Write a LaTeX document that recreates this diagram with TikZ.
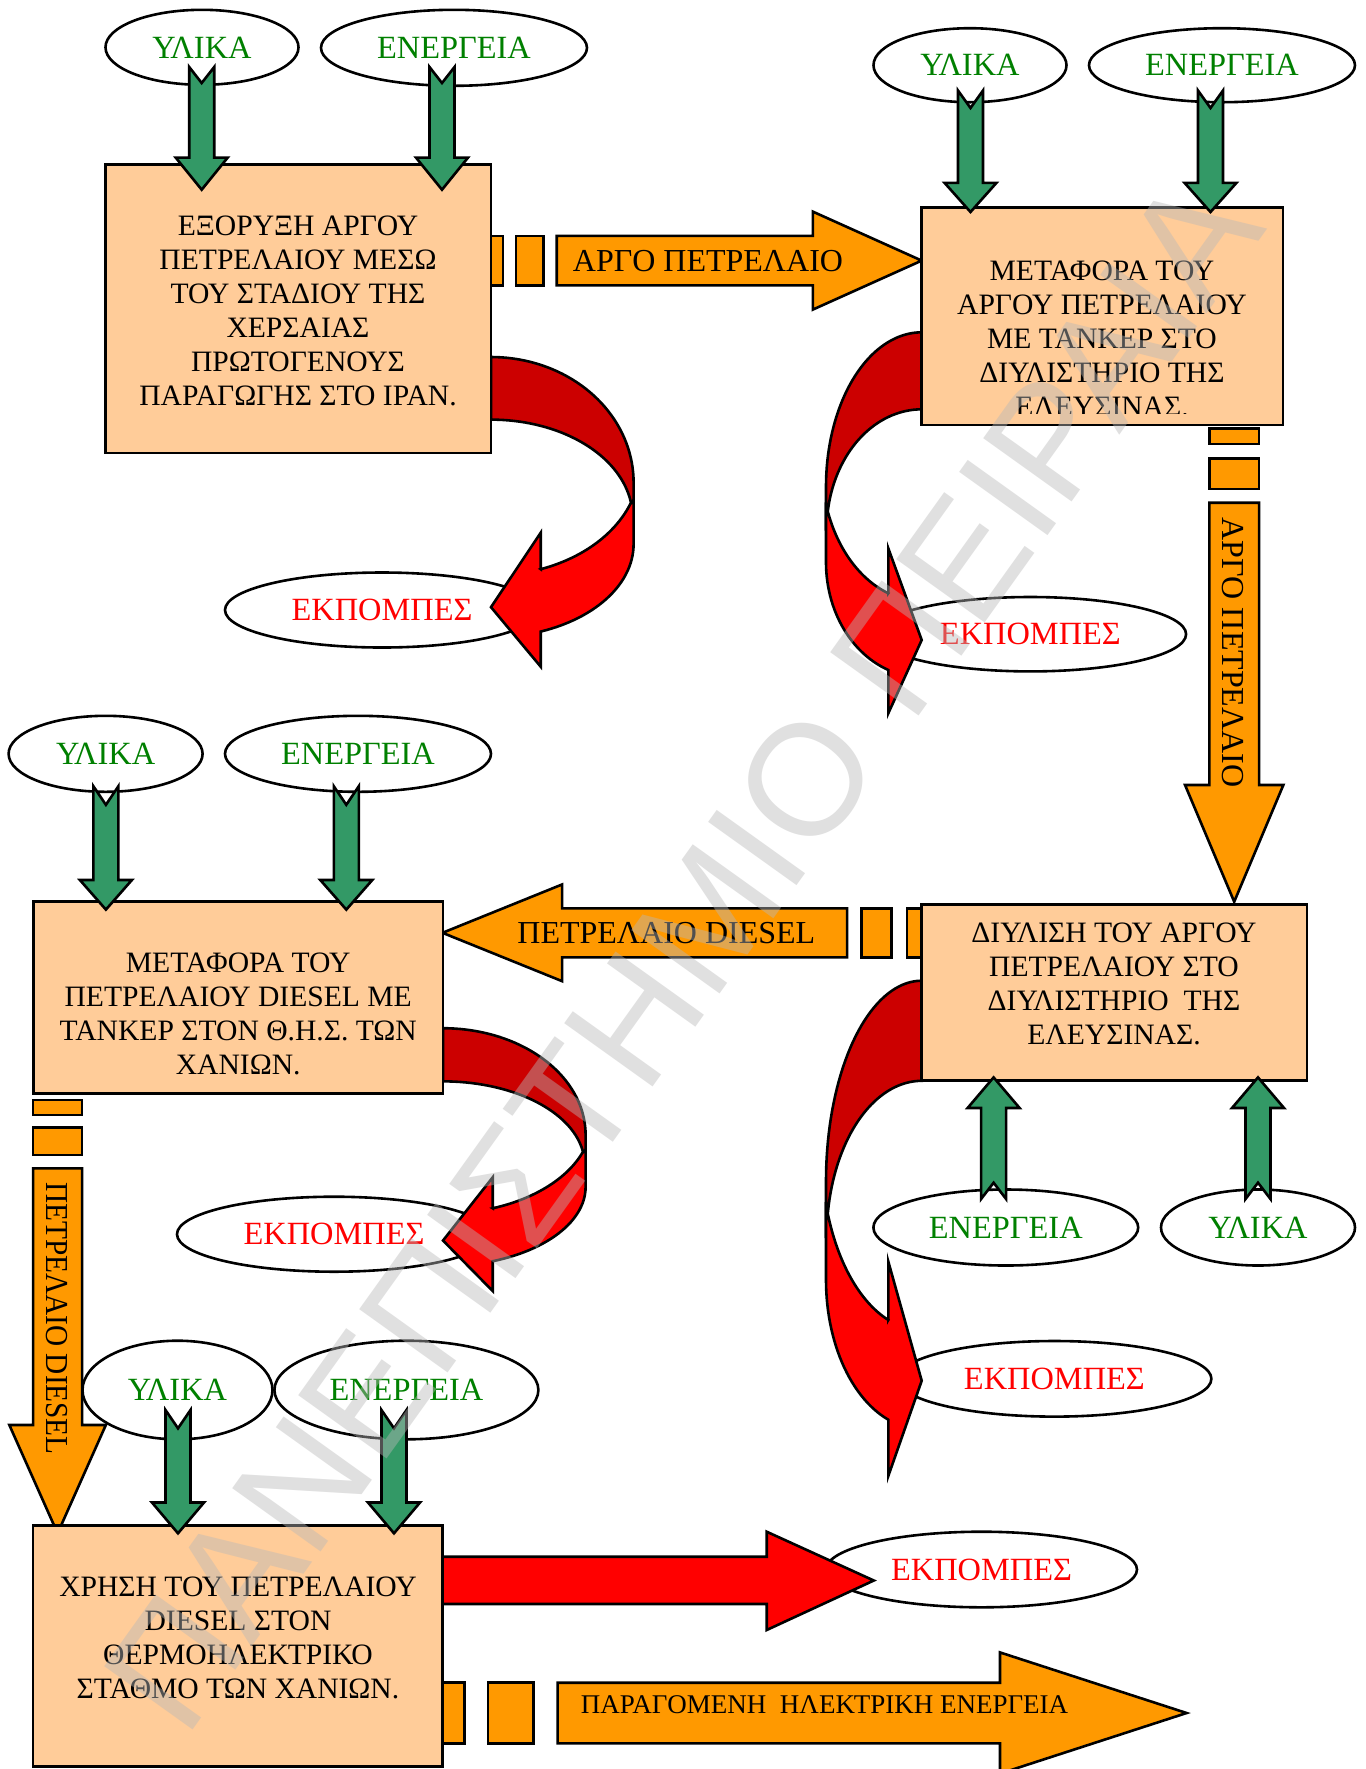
\documentclass[tikz,border=0pt]{standalone}
\usepackage{fontspec}
\setmainfont{Liberation Serif}
\newfontfamily\wmfont{Liberation Sans}
\usetikzlibrary{shapes.geometric}

\definecolor{peach}{HTML}{FFCC99}
\definecolor{oil}{HTML}{FF9900}
\definecolor{seagreen}{HTML}{339966}
\definecolor{labelgreen}{HTML}{008000}
\definecolor{darkred}{HTML}{CC0000}
\definecolor{brightred}{HTML}{FF0000}

\tikzset{
  outline/.style={draw=black, line width=1.3pt, line join=miter},
  stagebox/.style={outline, fill=peach, rectangle, inner sep=0pt},
  stagetext/.style={align=center, inner sep=0pt, font=\fontsize{14.8}{17}\selectfont},
  tagellipse/.style={ellipse, outline, fill=white, inner sep=0pt, font=\fontsize{16.2}{18}\selectfont},
  inputtag/.style={tagellipse, text=labelgreen},
  emittag/.style={tagellipse, text=brightred},
  flowtext/.style={inner sep=0pt, font=\fontsize{16}{18}\selectfont},
  inflow/.style={outline, fill=seagreen},
  oilflow/.style={outline, fill=oil},
  backcurl/.style={outline, fill=darkred},
  frontcurl/.style={outline, fill=brightred},
}

% notched block arrow: centre x, tail y, notch y, head-base y, tip y
\newcommand\inarrow[5]{%
  \path[inflow] (#1-12.5,#2) -- (#1,#3) -- (#1+12.5,#2) -- (#1+12.5,#4)
    -- (#1+26,#4) -- (#1,#5) -- (#1-26,#4) -- (#1-12.5,#4) -- cycle;}

% striped block arrow along +u:
% stripe 1, stripe 2, body start, head base, tip, body half width, head half width
\newcommand\stripedarrow[9]{%
  \path[oilflow] (#1,-#8) rectangle (#2,#8);
  \path[oilflow] (#3,-#8) rectangle (#4,#8);
  \path[oilflow] (#5,-#8) -- (#6,-#8) -- (#6,-#9) -- (#7,0) -- (#6,#9)
    -- (#6,#8) -- (#5,#8) -- cycle;}

% curled emission arrow, u away from the box edge, v downwards
\newcommand\emitcurl{%
  \path[backcurl] (0,0)
    -- plot[domain=0:90,samples=40] ({95.7*sin(\x)},{154.4*(1-cos(\x))})
    -- (95.7,197)
    -- plot[domain=0:90,samples=40] ({95*cos(\x)},{197-120*sin(\x)})
    -- cycle;
  \path[frontcurl] (95.7,176) -- (95.7,230.1)
    -- plot[domain=90:159.6,samples=30] ({95.7*sin(\x)},{230.1-114.8*cos(\x)})
    -- (33.4,381) -- (0,307.7) -- (33.4,216) -- (33.4,261)
    -- plot[domain=0:49.7,samples=30] ({100*sin(160.5-\x)},{132.4-136.4*cos(160.5-\x)})
    -- cycle;}

\begin{document}
\begin{tikzpicture}[x=0.5pt, y=-0.5pt]
\useasboundingbox (0,0) rectangle (1366,1769);
\fill[white] (0,0) rectangle (1366,1769);

% oil flows between the stages
\begin{scope}[shift={(491,260.6)}]
  \stripedarrow{-2}{12}{25}{52.6}{65.7}{321.8}{430.7}{24.75}{49}
\end{scope}
\begin{scope}[shift={(1234.2,424.8)}, rotate=-90]
  \stripedarrow{3.5}{19.2}{33.5}{64.2}{77.9}{360.2}{476.9}{24.85}{49.15}
\end{scope}
\begin{scope}[shift={(922,932.8)}, rotate=180]
  \stripedarrow{0.2}{15.2}{30.6}{60.6}{74.9}{359.9}{479.5}{24.5}{48.35}
\end{scope}
\begin{scope}[shift={(57.6,1093.4)}, rotate=-90]
  \stripedarrow{6.6}{21.6}{34.3}{61.6}{74.9}{331.6}{439.9}{24.45}{48.25}
\end{scope}
\begin{scope}[shift={(442.6,1713)}]
  \stripedarrow{-2}{21.7}{45.3}{90.6}{115}{557.4}{744}{30.3}{60.6}
\end{scope}

\node[flowtext, anchor=west] (f1) at (572.5,260.6) {ΑΡΓΟ ΠΕΤΡΕΛΑΙΟ};
\node[flowtext, rotate=-90] (f2) at (1233.3,652.5) {ΑΡΓΟ ΠΕΤΡΕΛΑΙΟ};
\node[flowtext, anchor=west] (f3) at (517,932.6) {ΠΕΤΡΕΛΑΙΟ DIESEL};
\node[flowtext, rotate=-90] (f4) at (57.2,1318.5) {\scalebox{0.915}[1]{ΠΕΤΡΕΛΑΙΟ DIESEL}};
\node[inner sep=0pt, font=\fontsize{13.5}{16}\selectfont, anchor=base] (f5) at (824.5,1713.3)
  {ΠΑΡΑΓΟΜΕΝΗ\ \ ΗΛΕΚΤΡΙΚΗ ΕΝΕΡΓΕΙΑ};

% emission labels
\node[emittag, minimum width=157pt, minimum height=37.5pt] (k1) at (382,610) {ΕΚΠΟΜΠΕΣ};
\node[emittag, minimum width=155.7pt, minimum height=37.2pt] (k2) at (1030.4,634.2) {ΕΚΠΟΜΠΕΣ};
\node[emittag, minimum width=157pt, minimum height=37.5pt] (k3) at (334,1234.2) {ΕΚΠΟΜΠΕΣ};
\node[emittag, minimum width=157pt, minimum height=37.8pt] (k4) at (1054.4,1378.8) {ΕΚΠΟΜΠΕΣ};
\node[emittag, minimum width=155.5pt, minimum height=37.8pt] (k5) at (981.5,1569.5) {ΕΚΠΟΜΠΕΣ};

% curled emission arrows
\begin{scope}[shift={(491,357)}, xscale=1.49, yscale=0.813]
  \emitcurl
\end{scope}
\begin{scope}[shift={(921.7,332.3)}, xscale=-1]
  \emitcurl
\end{scope}
\begin{scope}[shift={(443,1028.2)}, xscale=1.49, yscale=0.69]
  \emitcurl
\end{scope}
\begin{scope}[shift={(921.7,980.7)}, xscale=-1, yscale=1.3]
  \emitcurl
\end{scope}
\path[frontcurl] (442.6,1556.7) -- (766.7,1556.7) -- (766.7,1531.7) -- (873.8,1580.5)
  -- (766.7,1630) -- (766.7,1604) -- (442.6,1604) -- cycle;

% process stages
\node[stagebox, minimum width=192.8pt, minimum height=144.35pt] (s1) at (298.2,308.65) {};
\node[stagebox, minimum width=180.55pt, minimum height=108.6pt] (s2) at (1102.25,316.2) {};
\node[stagebox, minimum width=204.75pt, minimum height=95.85pt] (s3) at (238.25,997.55) {};
\node[stagebox, minimum width=192.55pt, minimum height=88.15pt] (s4) at (1114.25,992.45) {};
\node[stagebox, minimum width=204.75pt, minimum height=120.5pt] (s5) at (237.85,1646.2) {};

\node[stagetext] (s1t) at (298,310.8)
  {ΕΞΟΡΥΞΗ ΑΡΓΟΥ\\ΠΕΤΡΕΛΑΙΟΥ ΜΕΣΩ\\ΤΟΥ ΣΤΑΔΙΟΥ ΤΗΣ\\ΧΕΡΣΑΙΑΣ\\ΠΡΩΤΟΓΕΝΟΥΣ\\ΠΑΡΑΓΩΓΗΣ ΣΤΟ ΙΡΑΝ.};
\begin{scope}
  \clip (921.7,207.6) rectangle (1282.8,413.5);
  \node[stagetext] (s2t) at (1102,338.6)
    {ΜΕΤΑΦΟΡΑ ΤΟΥ\\ΑΡΓΟΥ ΠΕΤΡΕΛΑΙΟΥ\\ΜΕ ΤΑΝΚΕΡ ΣΤΟ\\ΔΙΥΛΙΣΤΗΡΙΟ ΤΗΣ\\ΕΛΕΥΣΙΝΑΣ.};
\end{scope}
\node[stagetext] (s3t) at (238.2,1013.8)
  {ΜΕΤΑΦΟΡΑ ΤΟΥ\\ΠΕΤΡΕΛΑΙΟΥ DIESEL ΜΕ\\ΤΑΝΚΕΡ ΣΤΟΝ Θ.Η.Σ. ΤΩΝ\\ΧΑΝΙΩΝ.};
\node[stagetext] (s4t) at (1114,983.7)
  {ΔΙΥΛΙΣΗ ΤΟΥ ΑΡΓΟΥ\\ΠΕΤΡΕΛΑΙΟΥ ΣΤΟ\\ΔΙΥΛΙΣΤΗΡΙΟ\ \ ΤΗΣ\\ΕΛΕΥΣΙΝΑΣ.};
\node[stagetext] (s5t) at (238,1638.1)
  {ΧΡΗΣΗ ΤΟΥ ΠΕΤΡΕΛΑΙΟΥ\\DIESEL ΣΤΟΝ\\ΘΕΡΜΟΗΛΕΚΤΡΙΚΟ\\ΣΤΑΘΜΟ ΤΩΝ ΧΑΝΙΩΝ.};

% material and energy inputs
\node[inputtag, minimum width=96.5pt, minimum height=37.5pt] (y1) at (202,47.3) {ΥΛΙΚΑ};
\node[inputtag, minimum width=133pt, minimum height=38pt] (n1) at (454,47.8) {ΕΝΕΡΓΕΙΑ};
\node[inputtag, minimum width=96.5pt, minimum height=37pt] (y2) at (970,65.2) {ΥΛΙΚΑ};
\node[inputtag, minimum width=133pt, minimum height=37pt] (n2) at (1222,65.2) {ΕΝΕΡΓΕΙΑ};
\node[inputtag, minimum width=97pt, minimum height=38pt] (y3) at (105.6,753.8) {ΥΛΙΚΑ};
\node[inputtag, minimum width=133pt, minimum height=38pt] (n3) at (358,753.8) {ΕΝΕΡΓΕΙΑ};
\node[inputtag, minimum width=132.4pt, minimum height=38pt] (n4) at (1005.8,1227.5) {ΕΝΕΡΓΕΙΑ};
\node[inputtag, minimum width=97pt, minimum height=38pt] (y4) at (1258,1227.5) {ΥΛΙΚΑ};
\node[inputtag, minimum width=95pt, minimum height=49.3pt] (y5) at (177.5,1390) {ΥΛΙΚΑ};
\node[inputtag, minimum width=132pt, minimum height=49.3pt] (n5) at (406.4,1390) {ΕΝΕΡΓΕΙΑ};

\inarrow{201.7}{67}{83}{157.6}{189.7}
\inarrow{442}{67}{83}{157.6}{189.7}
\inarrow{970.5}{90.5}{108}{182.8}{212}
\inarrow{1210.5}{90.5}{108}{182.8}{212}
\inarrow{105.9}{786.2}{804.8}{880}{909.6}
\inarrow{346.3}{786.2}{804.8}{880}{909.6}
\inarrow{993.6}{1199}{1182.7}{1108}{1077.4}
\inarrow{1258}{1199}{1182.7}{1108}{1077.4}
\inarrow{178}{1410}{1428.3}{1502.5}{1533.3}
\inarrow{394}{1410}{1428.3}{1502.5}{1533.3}

% watermark
\node[rotate=54.4, inner sep=0pt, text=black!28, text opacity=0.435,
      font=\wmfont\fontsize{79}{79}\selectfont] (wm) at (682.4,953) {ΠΑΝΕΠΙΣΤΗΜΙΟ ΠΕΙΡΑΙΑ};
\end{tikzpicture}
\end{document}
